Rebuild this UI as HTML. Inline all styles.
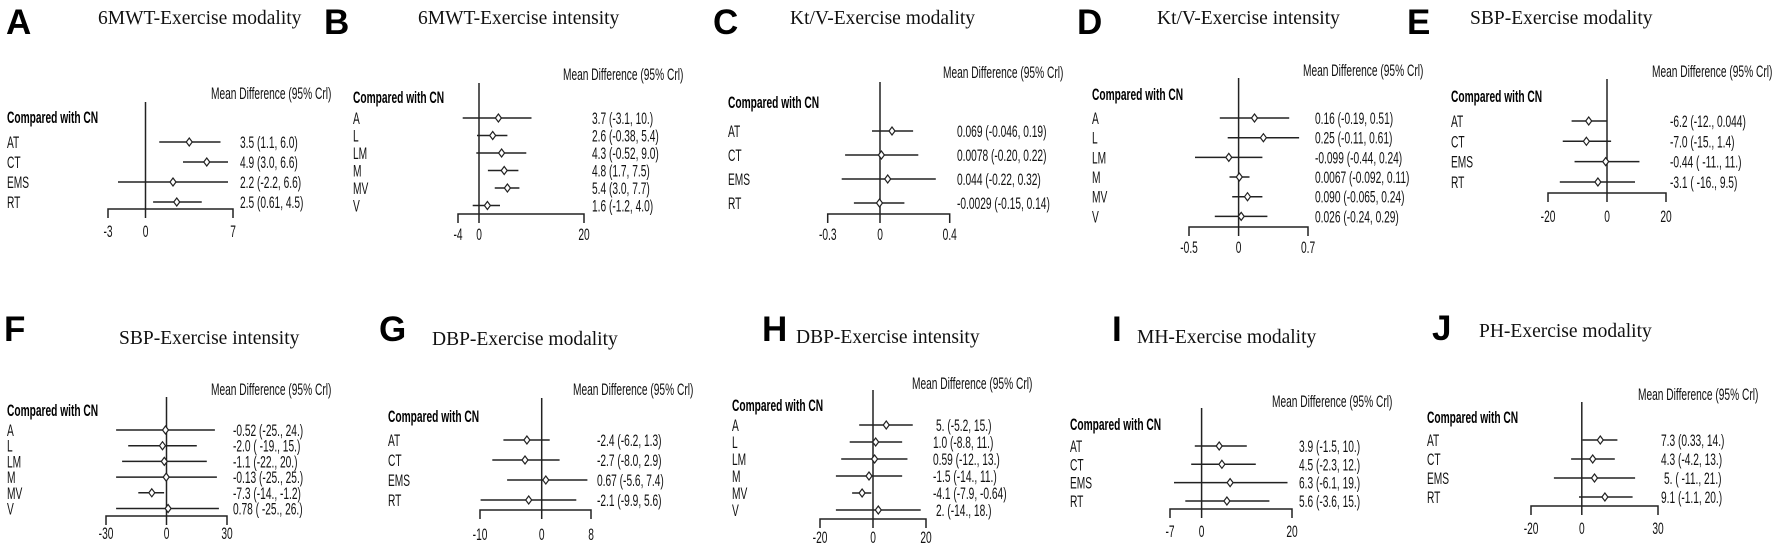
<!DOCTYPE html>
<html><head><meta charset="utf-8">
<style>
html,body{margin:0;padding:0;background:#fff}
svg{display:block}
.n{font-family:"Liberation Sans",sans-serif;font-size:17px;fill:#111;transform-box:fill-box;transform-origin:0 0;transform:scaleX(.6)}
.b{font-weight:bold;fill:#000}
.tk{font-family:"Liberation Sans",sans-serif;font-size:17px;fill:#111;text-anchor:middle;transform-box:fill-box;transform-origin:50% 0;transform:scaleX(.6)}
.L{font-family:"Liberation Sans",sans-serif;font-weight:bold;font-size:35px;fill:#000}
.T{font-family:"Liberation Serif",serif;font-size:19.5px;fill:#111}
line,path.a{stroke:#222;stroke-width:1.5;fill:none}
path.d{fill:#fff;stroke:#222;stroke-width:1.2}
</style></head><body>
<svg width="1772" height="544" viewBox="0 0 1772 544" xmlns="http://www.w3.org/2000/svg" xml:space="preserve">

<!-- A -->
<text class="L" x="6" y="34">A</text>
<text class="T" x="98" y="24">6MWT-Exercise modality</text>
<text class="n" x="211" y="99">Mean Difference (95% Crl)</text>
<text class="n b" x="7" y="123">Compared with CN</text>
<text class="n" x="7" y="148">AT</text><text class="n" x="7" y="168">CT</text><text class="n" x="7" y="188">EMS</text><text class="n" x="7" y="208">RT</text>
<text class="n" x="240" y="148">3.5 (1.1, 6.0)</text><text class="n" x="240" y="168">4.9 (3.0, 6.6)</text><text class="n" x="240" y="188">2.2 (-2.2, 6.6)</text><text class="n" x="240" y="208">2.5 (0.61, 4.5)</text>
<line x1="145.5" y1="102" x2="145.5" y2="209"/>
<path class="a" d="M108 218V209H233V218M145.5 209V218"/>
<text class="tk" x="108" y="237">-3</text><text class="tk" x="145.5" y="237">0</text><text class="tk" x="233" y="237">7</text>
<line x1="159.25" y1="142" x2="220.5" y2="142"/><path class="d" d="M189.25 138l3 4-3 4-3-4z"/>
<line x1="183" y1="162" x2="228" y2="162"/><path class="d" d="M206.75 158l3 4-3 4-3-4z"/>
<line x1="118" y1="182" x2="228" y2="182"/><path class="d" d="M173 178l3 4-3 4-3-4z"/>
<line x1="153.1" y1="202" x2="201.75" y2="202"/><path class="d" d="M176.75 198l3 4-3 4-3-4z"/>

<!-- B -->
<text class="L" x="324" y="34">B</text>
<text class="T" x="418" y="24">6MWT-Exercise intensity</text>
<text class="n" x="563" y="80">Mean Difference (95% Crl)</text>
<text class="n b" x="353" y="103">Compared with CN</text>
<text class="n" x="353" y="124">A</text><text class="n" x="353" y="141.5">L</text><text class="n" x="353" y="159">LM</text><text class="n" x="353" y="176.5">M</text><text class="n" x="353" y="194">MV</text><text class="n" x="353" y="211.5">V</text>
<text class="n" x="592" y="124">3.7 (-3.1, 10.)</text><text class="n" x="592" y="141.5">2.6 (-0.38, 5.4)</text><text class="n" x="592" y="159">4.3 (-0.52, 9.0)</text><text class="n" x="592" y="176.5">4.8 (1.7, 7.5)</text><text class="n" x="592" y="194">5.4 (3.0, 7.7)</text><text class="n" x="592" y="211.5">1.6 (-1.2, 4.0)</text>
<line x1="479" y1="83" x2="479" y2="214"/>
<path class="a" d="M458 223V214H584V223M479 214V223"/>
<text class="tk" x="458" y="240">-4</text><text class="tk" x="479" y="240">0</text><text class="tk" x="584" y="240">20</text>
<line x1="462.7" y1="118" x2="531.5" y2="118"/><path class="d" d="M498.4 114l3 4-3 4-3-4z"/>
<line x1="477" y1="135.5" x2="507.4" y2="135.5"/><path class="d" d="M492.7 131.5l3 4-3 4-3-4z"/>
<line x1="476.3" y1="153" x2="526.3" y2="153"/><path class="d" d="M501.6 149l3 4-3 4-3-4z"/>
<line x1="487.9" y1="170.5" x2="518.4" y2="170.5"/><path class="d" d="M504.2 166.5l3 4-3 4-3-4z"/>
<line x1="494.75" y1="188" x2="519.4" y2="188"/><path class="d" d="M507.4 184l3 4-3 4-3-4z"/>
<line x1="472.7" y1="205.5" x2="500" y2="205.5"/><path class="d" d="M487.4 201.5l3 4-3 4-3-4z"/>

<!-- C -->
<text class="L" x="713" y="34">C</text>
<text class="T" x="790" y="24">Kt/V-Exercise modality</text>
<text class="n" x="943" y="78">Mean Difference (95% Crl)</text>
<text class="n b" x="728" y="108">Compared with CN</text>
<text class="n" x="728" y="137">AT</text><text class="n" x="728" y="161">CT</text><text class="n" x="728" y="185">EMS</text><text class="n" x="728" y="209">RT</text>
<text class="n" x="957" y="137">0.069 (-0.046, 0.19)</text><text class="n" x="957" y="161">0.0078 (-0.20, 0.22)</text><text class="n" x="957" y="185">0.044 (-0.22, 0.32)</text><text class="n" x="957" y="209">-0.0029 (-0.15, 0.14)</text>
<line x1="880" y1="82" x2="880" y2="214"/>
<path class="a" d="M827.7 223V214H949.7V223M880 214V223"/>
<text class="tk" x="827.7" y="240">-0.3</text><text class="tk" x="880" y="240">0</text><text class="tk" x="949.7" y="240">0.4</text>
<line x1="872" y1="131" x2="913.1" y2="131"/><path class="d" d="M892 127l3 4-3 4-3-4z"/>
<line x1="845.1" y1="155" x2="918.3" y2="155"/><path class="d" d="M881.4 151l3 4-3 4-3-4z"/>
<line x1="841.7" y1="179" x2="935.8" y2="179"/><path class="d" d="M887.7 175l3 4-3 4-3-4z"/>
<line x1="853.9" y1="203" x2="904.4" y2="203"/><path class="d" d="M879.5 199l3 4-3 4-3-4z"/>

<!-- D -->
<text class="L" x="1077" y="34">D</text>
<text class="T" x="1157" y="24">Kt/V-Exercise intensity</text>
<text class="n" x="1303" y="76">Mean Difference (95% Crl)</text>
<text class="n b" x="1092" y="100">Compared with CN</text>
<text class="n" x="1092" y="124">A</text><text class="n" x="1092" y="143.7">L</text><text class="n" x="1092" y="163.4">LM</text><text class="n" x="1092" y="183">M</text><text class="n" x="1092" y="202.7">MV</text><text class="n" x="1092" y="222.4">V</text>
<text class="n" x="1315" y="124">0.16 (-0.19, 0.51)</text><text class="n" x="1315" y="143.7">0.25 (-0.11, 0.61)</text><text class="n" x="1315" y="163.4">-0.099 (-0.44, 0.24)</text><text class="n" x="1315" y="183">0.0067 (-0.092, 0.11)</text><text class="n" x="1315" y="202.7">0.090 (-0.065, 0.24)</text><text class="n" x="1315" y="222.4">0.026 (-0.24, 0.29)</text>
<line x1="1238.6" y1="78" x2="1238.6" y2="227"/>
<path class="a" d="M1189 236V227H1308V236M1238.6 227V236"/>
<text class="tk" x="1189" y="253">-0.5</text><text class="tk" x="1238.6" y="253">0</text><text class="tk" x="1308" y="253">0.7</text>
<line x1="1219.8" y1="118" x2="1289.2" y2="118"/><path class="d" d="M1254.5 114l3 4-3 4-3-4z"/>
<line x1="1227.7" y1="137.7" x2="1299.1" y2="137.7"/><path class="d" d="M1263.4 133.7l3 4-3 4-3-4z"/>
<line x1="1195" y1="157.4" x2="1262.4" y2="157.4"/><path class="d" d="M1228.8 153.4l3 4-3 4-3-4z"/>
<line x1="1229.5" y1="177" x2="1249.5" y2="177"/><path class="d" d="M1239.3 173l3 4-3 4-3-4z"/>
<line x1="1232.2" y1="196.7" x2="1262.4" y2="196.7"/><path class="d" d="M1247.5 192.7l3 4-3 4-3-4z"/>
<line x1="1214.8" y1="216.4" x2="1267.4" y2="216.4"/><path class="d" d="M1241.2 212.4l3 4-3 4-3-4z"/>

<!-- E -->
<text class="L" x="1407" y="34">E</text>
<text class="T" x="1470" y="24">SBP-Exercise modality</text>
<text class="n" x="1652" y="77">Mean Difference (95% Crl)</text>
<text class="n b" x="1451" y="102">Compared with CN</text>
<text class="n" x="1451" y="127">AT</text><text class="n" x="1451" y="147.3">CT</text><text class="n" x="1451" y="167.6">EMS</text><text class="n" x="1451" y="188">RT</text>
<text class="n" x="1670" y="127">-6.2 (-12., 0.044)</text><text class="n" x="1670" y="147.3">-7.0 (-15., 1.4)</text><text class="n" x="1670" y="167.6">-0.44 ( -11.,  11.)</text><text class="n" x="1670" y="188">-3.1 ( -16., 9.5)</text>
<line x1="1607" y1="79" x2="1607" y2="193"/>
<path class="a" d="M1548 202V193H1666V202M1607 193V202"/>
<text class="tk" x="1548" y="222">-20</text><text class="tk" x="1607" y="222">0</text><text class="tk" x="1666" y="222">20</text>
<line x1="1571.6" y1="121" x2="1607.1" y2="121"/><path class="d" d="M1588.7 117l3 4-3 4-3-4z"/>
<line x1="1562.75" y1="141.3" x2="1611.1" y2="141.3"/><path class="d" d="M1586.4 137.3l3 4-3 4-3-4z"/>
<line x1="1574.55" y1="161.6" x2="1639.45" y2="161.6"/><path class="d" d="M1605.7 157.6l3 4-3 4-3-4z"/>
<line x1="1559.8" y1="182" x2="1635" y2="182"/><path class="d" d="M1597.9 178l3 4-3 4-3-4z"/>

<!-- F -->
<text class="L" x="4" y="341">F</text>
<text class="T" x="119" y="344">SBP-Exercise intensity</text>
<text class="n" x="211" y="395">Mean Difference (95% Crl)</text>
<text class="n b" x="7" y="416">Compared with CN</text>
<text class="n" x="7" y="436">A</text><text class="n" x="7" y="451.7">L</text><text class="n" x="7" y="467.4">LM</text><text class="n" x="7" y="483.1">M</text><text class="n" x="7" y="498.8">MV</text><text class="n" x="7" y="514.5">V</text>
<text class="n" x="233" y="436">-0.52 (-25., 24.)</text><text class="n" x="233" y="451.7">-2.0 ( -19.,  15.)</text><text class="n" x="233" y="467.4">-1.1 (-22., 20.)</text><text class="n" x="233" y="483.1">-0.13 (-25.,  25.)</text><text class="n" x="233" y="498.8">-7.3 (-14., -1.2)</text><text class="n" x="233" y="514.5">0.78 ( -25.,  26.)</text>
<line x1="166.5" y1="397" x2="166.5" y2="516"/>
<path class="a" d="M106 525V516H227V525M166.5 516V525"/>
<text class="tk" x="106" y="539">-30</text><text class="tk" x="166.5" y="539">0</text><text class="tk" x="227" y="539">30</text>
<line x1="116.1" y1="430" x2="214.9" y2="430"/><path class="d" d="M165.5 426l3 4-3 4-3-4z"/>
<line x1="128.2" y1="445.7" x2="196.8" y2="445.7"/><path class="d" d="M162.5 441.7l3 4-3 4-3-4z"/>
<line x1="122.1" y1="461.4" x2="206.8" y2="461.4"/><path class="d" d="M164.3 457.4l3 4-3 4-3-4z"/>
<line x1="116.1" y1="477.1" x2="216.9" y2="477.1"/><path class="d" d="M166.2 473.1l3 4-3 4-3-4z"/>
<line x1="138.3" y1="492.8" x2="164.1" y2="492.8"/><path class="d" d="M151.8 488.8l3 4-3 4-3-4z"/>
<line x1="116.1" y1="508.5" x2="218.9" y2="508.5"/><path class="d" d="M168.1 504.5l3 4-3 4-3-4z"/>

<!-- G -->
<text class="L" x="379" y="341">G</text>
<text class="T" x="432" y="345">DBP-Exercise modality</text>
<text class="n" x="573" y="395">Mean Difference (95% Crl)</text>
<text class="n b" x="388" y="422">Compared with CN</text>
<text class="n" x="388" y="446">AT</text><text class="n" x="388" y="466">CT</text><text class="n" x="388" y="486">EMS</text><text class="n" x="388" y="506">RT</text>
<text class="n" x="597" y="446">-2.4 (-6.2, 1.3)</text><text class="n" x="597" y="466">-2.7 (-8.0, 2.9)</text><text class="n" x="597" y="486">0.67 (-5.6, 7.4)</text><text class="n" x="597" y="506">-2.1 (-9.9, 5.6)</text>
<line x1="541.7" y1="398" x2="541.7" y2="510"/>
<path class="a" d="M480 519V510H591V519M541.7 510V519"/>
<text class="tk" x="480" y="540">-10</text><text class="tk" x="541.7" y="540">0</text><text class="tk" x="591" y="540">8</text>
<line x1="503.4" y1="440" x2="549.7" y2="440"/><path class="d" d="M526.9 436l3 4-3 4-3-4z"/>
<line x1="492.3" y1="460" x2="559.6" y2="460"/><path class="d" d="M525 456l3 4-3 4-3-4z"/>
<line x1="507.1" y1="480" x2="587.4" y2="480"/><path class="d" d="M545.8 476l3 4-3 4-3-4z"/>
<line x1="480.6" y1="500" x2="576.3" y2="500"/><path class="d" d="M528.7 496l3 4-3 4-3-4z"/>

<!-- H -->
<text class="L" x="762" y="341">H</text>
<text class="T" x="796" y="343">DBP-Exercise intensity</text>
<text class="n" x="912" y="389">Mean Difference (95% Crl)</text>
<text class="n b" x="732" y="411">Compared with CN</text>
<text class="n" x="732" y="431">A</text><text class="n" x="732" y="448">L</text><text class="n" x="732" y="465">LM</text><text class="n" x="732" y="482">M</text><text class="n" x="732" y="499">MV</text><text class="n" x="732" y="516">V</text>
<text class="n" x="936" y="431">5. (-5.2, 15.)</text><text class="n" x="933" y="448">1.0 (-8.8, 11.)</text><text class="n" x="933" y="465">0.59 (-12., 13.)</text><text class="n" x="933" y="482">-1.5 (-14., 11.)</text><text class="n" x="933" y="499">-4.1 (-7.9, -0.64)</text><text class="n" x="936" y="516">2. (-14., 18.)</text>
<line x1="873" y1="390" x2="873" y2="519"/>
<path class="a" d="M820 528V519H926V528M873 519V528"/>
<text class="tk" x="820" y="543">-20</text><text class="tk" x="873" y="543">0</text><text class="tk" x="926" y="543">20</text>
<line x1="859.2" y1="425" x2="912.75" y2="425"/><path class="d" d="M886.25 421l3 4-3 4-3-4z"/>
<line x1="849.7" y1="442" x2="902.15" y2="442"/><path class="d" d="M875.65 438l3 4-3 4-3-4z"/>
<line x1="841.2" y1="459" x2="907.45" y2="459"/><path class="d" d="M874.6 455l3 4-3 4-3-4z"/>
<line x1="835.9" y1="476" x2="902.15" y2="476"/><path class="d" d="M869 472l3 4-3 4-3-4z"/>
<line x1="852.1" y1="493" x2="871.3" y2="493"/><path class="d" d="M862.1 489l3 4-3 4-3-4z"/>
<line x1="835.9" y1="510" x2="920.7" y2="510"/><path class="d" d="M878.3 506l3 4-3 4-3-4z"/>

<!-- I -->
<text class="L" x="1112" y="341">I</text>
<text class="T" x="1137" y="343">MH-Exercise modality</text>
<text class="n" x="1272" y="407">Mean Difference (95% Crl)</text>
<text class="n b" x="1070" y="430">Compared with CN</text>
<text class="n" x="1070" y="452">AT</text><text class="n" x="1070" y="470.3">CT</text><text class="n" x="1070" y="488.6">EMS</text><text class="n" x="1070" y="507">RT</text>
<text class="n" x="1299" y="452">3.9 (-1.5, 10.)</text><text class="n" x="1299" y="470.3">4.5 (-2.3,  12.)</text><text class="n" x="1299" y="488.6">6.3 (-6.1, 19.)</text><text class="n" x="1299" y="507">5.6 (-3.6, 15.)</text>
<line x1="1201.6" y1="408" x2="1201.6" y2="509"/>
<path class="a" d="M1170 518V509H1292V518M1201.6 509V518"/>
<text class="tk" x="1170" y="537">-7</text><text class="tk" x="1201.6" y="537">0</text><text class="tk" x="1292" y="537">20</text>
<line x1="1194.8" y1="446" x2="1246.8" y2="446"/><path class="d" d="M1219.2 442l3 4-3 4-3-4z"/>
<line x1="1191.2" y1="464.3" x2="1255.8" y2="464.3"/><path class="d" d="M1221.9 460.3l3 4-3 4-3-4z"/>
<line x1="1174" y1="482.6" x2="1287.5" y2="482.6"/><path class="d" d="M1230.1 478.6l3 4-3 4-3-4z"/>
<line x1="1185.3" y1="501" x2="1269.4" y2="501"/><path class="d" d="M1226.9 497l3 4-3 4-3-4z"/>

<!-- J -->
<text class="L" x="1432" y="340">J</text>
<text class="T" x="1479" y="337">PH-Exercise modality</text>
<text class="n" x="1638" y="400">Mean Difference (95% Crl)</text>
<text class="n b" x="1427" y="423">Compared with CN</text>
<text class="n" x="1427" y="446">AT</text><text class="n" x="1427" y="465">CT</text><text class="n" x="1427" y="484">EMS</text><text class="n" x="1427" y="503">RT</text>
<text class="n" x="1661" y="446">7.3 (0.33,  14.)</text><text class="n" x="1661" y="465">4.3 (-4.2, 13.)</text><text class="n" x="1664" y="484">5. ( -11.,  21.)</text><text class="n" x="1661" y="503">9.1 (-1.1,  20.)</text>
<line x1="1581.8" y1="402" x2="1581.8" y2="506"/>
<path class="a" d="M1531 515V506H1658V515M1581.8 506V515"/>
<text class="tk" x="1531" y="534">-20</text><text class="tk" x="1581.8" y="534">0</text><text class="tk" x="1658" y="534">30</text>
<line x1="1582.6" y1="440" x2="1617.4" y2="440"/><path class="d" d="M1600.3 436l3 4-3 4-3-4z"/>
<line x1="1571.1" y1="459" x2="1614.8" y2="459"/><path class="d" d="M1592.7 455l3 4-3 4-3-4z"/>
<line x1="1553.9" y1="478" x2="1635.1" y2="478"/><path class="d" d="M1594.5 474l3 4-3 4-3-4z"/>
<line x1="1579" y1="497" x2="1632.6" y2="497"/><path class="d" d="M1604.9 493l3 4-3 4-3-4z"/>

</svg>
</body></html>
